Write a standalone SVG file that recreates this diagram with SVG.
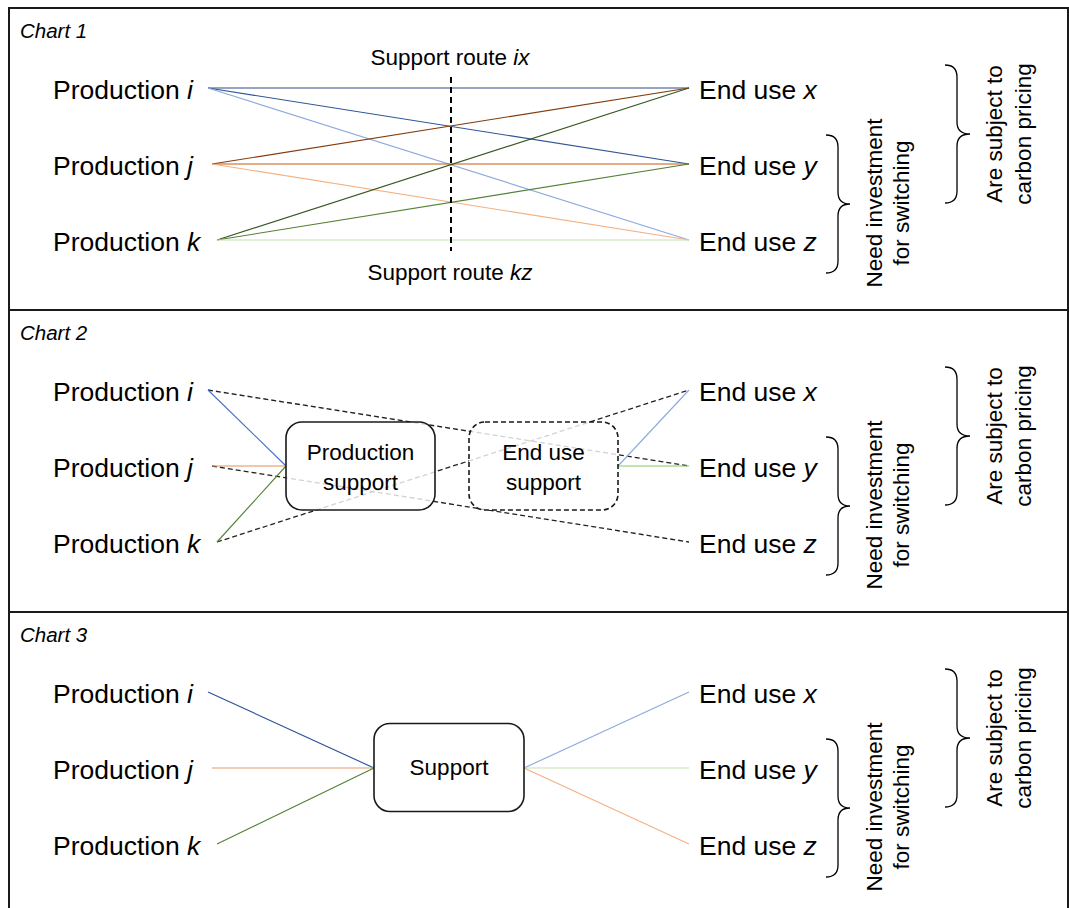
<svg xmlns="http://www.w3.org/2000/svg" width="1069" height="908" viewBox="0 0 1069 908">
<style>
text{font-family:"Liberation Sans",Arial,sans-serif;fill:#000}
.lbl{font-size:26.5px}
.title{font-size:20.5px;font-style:italic}
.sm{font-size:22.5px}
.it{font-style:italic}
.frame{fill:none;stroke:#1a1a1a;stroke-width:2}
.brace{fill:none;stroke:#000;stroke-width:1.3}
.box{fill:#fff;fill-opacity:0.8;stroke:#1a1a1a;stroke-width:1.6}
.dbox{fill:#fff;fill-opacity:0.8;stroke:#1a1a1a;stroke-width:1.6;stroke-dasharray:5 3}
.ln{fill:none;stroke-width:1.15}
.dash{fill:none;stroke:#222;stroke-width:1.3;stroke-dasharray:5 3}
</style>
<defs>
<g id="labels">
<text class="lbl" x="53" y="98.5">Production <tspan class="it">i</tspan></text>
<text class="lbl" x="53" y="174.5">Production <tspan class="it">j</tspan></text>
<text class="lbl" x="53" y="250.5">Production <tspan class="it">k</tspan></text>
<text class="lbl" x="699" y="98.5">End use <tspan class="it">x</tspan></text>
<text class="lbl" x="699" y="174.5">End use <tspan class="it">y</tspan></text>
<text class="lbl" x="699" y="250.5">End use <tspan class="it">z</tspan></text>
</g>
<g id="braces">
<path class="brace" d="M826,135 Q838,135 838,147 L838,192 Q838,204 850,204 Q838,204 838,216 L838,261 Q838,273 826,273"/>
<text class="sm" text-anchor="middle" transform="translate(882,203) rotate(-90)">Need investment</text>
<text class="sm" text-anchor="middle" transform="translate(909,203) rotate(-90)">for switching</text>
<path class="brace" d="M945,65 Q957,65 957,77 L957,122 Q957,134 970,134 Q957,134 957,146 L957,191 Q957,203 945,203"/>
<text class="sm" text-anchor="middle" transform="translate(1002,134) rotate(-90)">Are subject to</text>
<text class="sm" text-anchor="middle" transform="translate(1031,134) rotate(-90)">carbon pricing</text>
</g>
</defs>

<g id="frame">
<rect class="frame" x="9" y="8" width="1059" height="904"/>
<line class="frame" x1="9" y1="310" x2="1068" y2="310"/>
<line class="frame" x1="9" y1="612" x2="1068" y2="612"/>
</g>

<!-- Chart 1 -->
<g id="chart1">
<text class="title" x="20" y="38">Chart 1</text>
<g id="c1-connectors">
<line class="ln" x1="208" y1="88" x2="689" y2="88" stroke="#2E4F86"/>
<line class="ln" x1="208" y1="88" x2="689" y2="164" stroke="#2F5597"/>
<line class="ln" x1="208" y1="88" x2="689" y2="240" stroke="#8FAADC"/>
<line class="ln" x1="212" y1="164" x2="689" y2="88" stroke="#843C0C"/>
<line class="ln" x1="212" y1="164" x2="689" y2="164" stroke="#C55A11"/>
<line class="ln" x1="212" y1="164" x2="689" y2="240" stroke="#F4B183"/>
<line class="ln" x1="217" y1="240" x2="689" y2="88" stroke="#385723"/>
<line class="ln" x1="217" y1="240" x2="689" y2="164" stroke="#548235"/>
<line class="ln" x1="217" y1="240" x2="689" y2="240" stroke="#C5E0B4" stroke-width="2"/>
<line x1="451" y1="77" x2="451" y2="251" stroke="#000" stroke-width="2" stroke-dasharray="6 4"/>
</g>
<g id="c1-nodes">
<use href="#labels"/>
<g id="c1-route-ix"><text class="sm" text-anchor="middle" x="450" y="65">Support route <tspan class="it">ix</tspan></text></g>
<g id="c1-route-kz"><text class="sm" text-anchor="middle" x="450" y="280">Support route <tspan class="it">kz</tspan></text></g>
<use href="#braces"/>
</g>
</g>

<!-- Chart 2 -->
<g id="chart2" transform="translate(0,302)">
<text class="title" x="20" y="38">Chart 2</text>
<g id="c2-connectors">
<line class="dash" x1="208" y1="88" x2="689" y2="164"/>
<line class="dash" x1="212" y1="164" x2="689" y2="240"/>
<line class="dash" x1="217" y1="240" x2="689" y2="88"/>
<line class="ln" x1="208" y1="88" x2="286" y2="164" stroke="#4472C4"/>
<line class="ln" x1="212" y1="164" x2="286" y2="164" stroke="#E0925E" stroke-width="2.5"/>
<line class="ln" x1="217" y1="240" x2="286" y2="164" stroke="#548235"/>
<line class="ln" x1="618" y1="164" x2="689" y2="88" stroke="#8FAADC"/>
<line class="ln" x1="618" y1="164" x2="689" y2="164" stroke="#8CC56B"/>
</g>
<g id="c2-nodes">
<use href="#labels"/>
<g id="c2-production-support">
<rect class="box" x="286" y="120" width="149" height="88" rx="16"/>
<text class="sm" text-anchor="middle" x="360.5" y="158">Production</text>
<text class="sm" text-anchor="middle" x="360.5" y="188">support</text>
</g>
<g id="c2-enduse-support">
<rect class="dbox" x="469" y="120" width="149" height="88" rx="16"/>
<text class="sm" text-anchor="middle" x="543.5" y="158">End use</text>
<text class="sm" text-anchor="middle" x="543.5" y="188">support</text>
</g>
<use href="#braces"/>
</g>
</g>

<!-- Chart 3 -->
<g id="chart3" transform="translate(0,604)">
<text class="title" x="20" y="38">Chart 3</text>
<g id="c3-connectors">
<line class="ln" x1="208" y1="88" x2="374" y2="164" stroke="#2F5597"/>
<line class="ln" x1="212" y1="164" x2="374" y2="164" stroke="#E59A6A" stroke-width="2"/>
<line class="ln" x1="217" y1="240" x2="374" y2="164" stroke="#548235"/>
<line class="ln" x1="524" y1="164" x2="689" y2="88" stroke="#8FAADC"/>
<line class="ln" x1="524" y1="164" x2="689" y2="164" stroke="#C5E0B4" stroke-width="2"/>
<line class="ln" x1="524" y1="164" x2="689" y2="240" stroke="#F4B183"/>
</g>
<g id="c3-nodes">
<use href="#labels"/>
<g id="c3-support">
<rect class="box" x="374" y="119.5" width="150" height="88" rx="16"/>
<text class="sm" text-anchor="middle" x="449" y="171">Support</text>
</g>
<use href="#braces"/>
</g>
</g>
</svg>
